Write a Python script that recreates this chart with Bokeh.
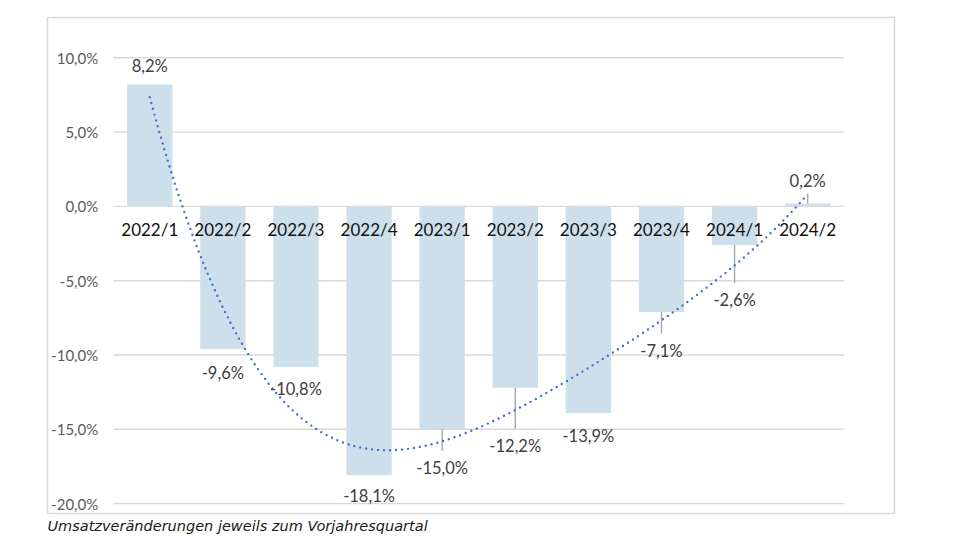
import numpy as np
from bokeh.plotting import figure
from bokeh.models import ColumnDataSource, Range1d, Title
from bokeh.core.properties import value
from bokeh.embed import file_html
from bokeh.resources import INLINE

# ---------------- data ----------------
categories = ["2022/1", "2022/2", "2022/3", "2022/4", "2023/1",
              "2023/2", "2023/3", "2023/4", "2024/1", "2024/2"]
values = [8.2, -9.6, -10.8, -18.1, -15.0, -12.2, -13.9, -7.1, -2.6, 0.2]
value_labels = ["8,2%", "-9,6%", "-10,8%", "-18,1%", "-15,0%",
                "-12,2%", "-13,9%", "-7,1%", "-2,6%", "0,2%"]
y_ticks = [-20, -15, -10, -5, 0, 5, 10]
y_tick_labels = ["-20,0%", "-15,0%", "-10,0%", "-5,0%", "0,0%", "5,0%", "10,0%"]
caption = "Umsatzveränderungen jeweils zum Vorjahresquartal"

# manually placed data-label positions (in % units) and leader-line flags
label_y = [9.42, -11.21, -12.29, -19.47, -17.6, -16.1, -15.48, -9.71, -6.28, 1.73]
has_leader = [False, False, False, False, True, True, False, True, True, True]

# ---------------- styles ----------------
BAR_COLOR = "#CEDFEC"
GRID_COLOR = "#D9D9D9"
TREND_COLOR = "#4472C4"
LEADER_COLOR = "#A6A6A6"
FONT = "Lato"

n = len(categories)
xs = list(range(n))

p = figure(frame_width=847, frame_height=496,
           min_border_left=47, min_border_top=17, min_border_right=82, min_border_bottom=23,
           x_range=Range1d(-1.399, 10.188), y_range=Range1d(-20.666, 12.712),
           x_axis_type=None, y_axis_type=None,
           output_backend="svg", toolbar_location=None)
p.grid.visible = False
p.outline_line_color = GRID_COLOR
p.outline_line_width = 1.6
p.background_fill_color = "white"
p.border_fill_color = "white"

# gridlines
p.segment(x0=[-0.5] * len(y_ticks), x1=[n - 0.5] * len(y_ticks),
          y0=y_ticks, y1=y_ticks, line_color=GRID_COLOR, line_width=1.4)

# y tick labels
p.text(x=[-0.5] * len(y_ticks), y=y_ticks, text=y_tick_labels,
       x_offset=-15, text_align="right", text_baseline="middle",
       text_font=value(FONT), text_font_size="15px", text_color="#595959")

# bars
src = ColumnDataSource(dict(x=xs, top=values, cat=categories,
                            lab=value_labels, ly=label_y))
p.vbar(x="x", top="top", bottom=0, width=0.62, source=src,
       fill_color=BAR_COLOR, line_color=None)

# leader lines
PX_PER_UNIT = 14.86
lx, l0, l1 = [], [], []
for i in range(n):
    if has_leader[i]:
        lx.append(xs[i])
        l0.append(values[i])
        if label_y[i] < 0:
            l1.append(label_y[i] + 17 / PX_PER_UNIT)
        else:
            l1.append(label_y[i] - 13 / PX_PER_UNIT)
p.segment(x0=lx, x1=lx, y0=l0, y1=l1, line_color=LEADER_COLOR, line_width=1.4)

# polynomial (order 4) trend line, as in the original spreadsheet
coef = np.polyfit(np.arange(1, n + 1), values, 4)
tx = np.linspace(1, n, 300)
ty = np.polyval(coef, tx)
p.line(x=tx - 1, y=ty, line_color=TREND_COLOR, line_width=2.4,
       line_dash="0 6", line_cap="round")

# category labels (just below the zero line)
p.text(x="x", y=0, text="cat", source=src, y_offset=23,
       text_align="center", text_baseline="middle",
       text_font=value(FONT), text_font_size="17px", text_color="#111111")

# data labels
p.text(x="x", y="ly", text="lab", source=src,
       text_align="center", text_baseline="middle",
       text_font=value(FONT), text_font_size="16.5px", text_color="#404040")

# caption
t = Title(text=caption, align="left", text_font="DejaVu Sans",
          text_font_style="italic", text_font_size="14.5px",
          text_color="#1a1a1a", standoff=4, offset=0)
p.add_layout(t, "below")

open("out.html", "w").write(file_html(p, INLINE))
